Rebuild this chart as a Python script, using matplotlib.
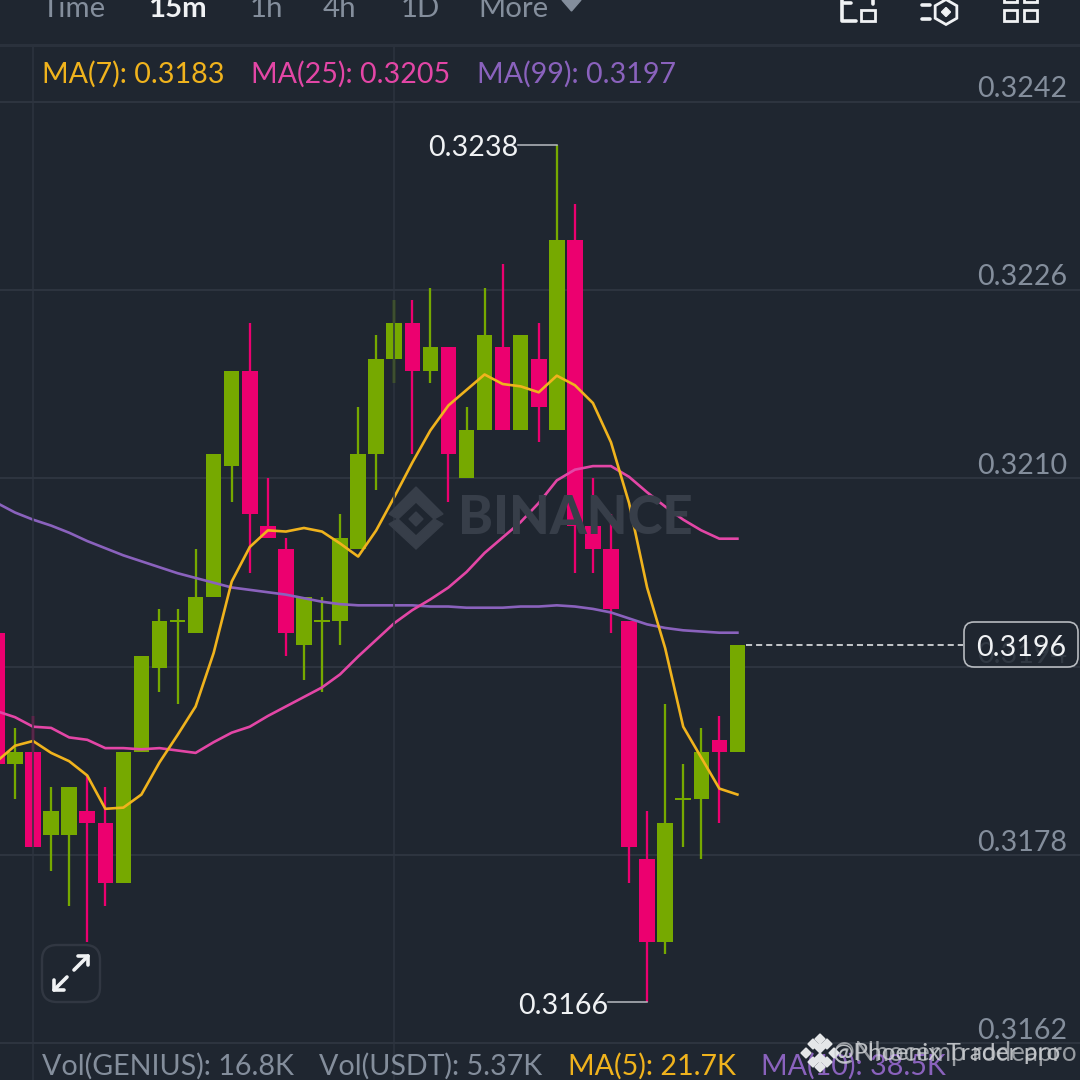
import matplotlib
matplotlib.use("Agg")
import matplotlib.pyplot as plt
from matplotlib.patches import FancyBboxPatch, Rectangle, Polygon, RegularPolygon

plt.rcParams['font.family'] = ['Lato', 'DejaVu Sans']

# --- data -----------------------------------------------------------------
opens = [.3197,.3186,.3187,.3180,.3180,.3182,.3181,.3176,.3187,.3194,.3198,.3197,.3200,.3211,.3219,.3206,
         .3204,.3196,.3198,.3198,.3204,.3212,.3220,.3223,.3219,.3221,.3210,.3214,.3221,.3214,.3220,.3214,
         .3230,.3206,.3204,.3198,.3178,.3171,.3183,.3183,.3188,.3187]
closes = [.3186,.3187,.3179,.3182,.3184,.3181,.3176,.3187,.3195,.3198,.3198,.3200,.3212,.3219,.3207,.3205,
          .3197,.3200,.3198,.3205,.3212,.3220,.3223,.3219,.3221,.3212,.3214,.3222,.3214,.3222,.3216,.3230,
          .3206,.3204,.3199,.3179,.3171,.3181,.3183,.3187,.3187,.3196]
highs = [.3197,.3189,.3190,.3184,.3184,.3185,.3184,.3187,.3195,.3199,.3199,.3204,.3212,.3219,.3223,.3210,
         .3205,.3200,.3200,.3207,.3216,.3222,.3225,.3225,.3226,.3221,.3216,.3226,.3228,.3222,.3223,.3238,
         .3233,.3210,.3207,.3198,.3182,.3191,.3186,.3189,.3190,.3196]
lows = [.3186,.3183,.3179,.3177,.3174,.3171,.3174,.3176,.3187,.3192,.3191,.3197,.3200,.3208,.3202,.3205,
        .3195,.3193,.3192,.3196,.3204,.3209,.3218,.3212,.3218,.3208,.3210,.3214,.3214,.3214,.3213,.3214,
        .3202,.3202,.3197,.3176,.3166,.3170,.3179,.3178,.3181,.3187]
ma7 = [.31862,.31875,.31879,.31869,.31862,.31850,.31822,.31823,.31834,.31861,.31884,.31908,.31953,.32013,
       .32042,.32056,.32055,.32058,.32055,.32045,.32034,.32056,.32084,.32113,.32140,.32161,.32174,.32187,
       .32179,.32177,.32172,.32186,.32178,.32163,.32130,.32079,.32008,.31957,.31891,.31865,.31839,.31834]
ma25 = [.31904,.31899,.31891,.31890,.31882,.31880,.31873,.31873,.31872,.31873,.31871,.31869,.31878,.31886,
        .31891,.31900,.31908,.31916,.31924,.31935,.31950,.31964,.31978,.31989,.31998,.32008,.32021,.32037,
        .32050,.32063,.32079,.32098,.32107,.32110,.32110,.32101,.32088,.32076,.32065,.32056,.32049,.32049]
ma99 = [.32079,.32071,.32065,.32060,.32054,.32047,.32041,.32035,.32030,.32025,.32020,.32016,.32012,.32008,
        .32006,.32004,.32002,.31999,.31996,.31994,.31993,.31993,.31993,.31993,.31992,.31992,.31991,.31991,
        .31991,.31992,.31992,.31993,.31992,.31990,.31987,.31982,.31977,.31974,.31972,.31971,.31970,.31970]
grid_prices = [.32416,.32258,.32100,.31941,.31783,.31625]
grid_labels = ['0.3242','0.3226','0.3210','0.3194','0.3178','0.3162']
vgrid_idx = [2, 22]
last_price = .3196

BG = '#1f2630'; GRID = '#2d343f'; GREEN = '#76a900'; RED = '#ec006f'
YEL = '#f0b31d'; PNK = '#e346a6'; PUR = '#8a62bd'; GREY = '#848e9c'; WHITE = '#f0f2f4'
FS = 20.6

fig = plt.figure(figsize=(10.8, 10.8), dpi=100, facecolor=BG)
ax = fig.add_axes([0, 0, 1, 1], facecolor=BG)
ax.set_xlim(0.1694, 59.97)
ax.set_ylim(.315941, .325017)
ax.axis('off')

# overlay in pixel space for the app chrome
ui = fig.add_axes([0, 0, 1, 1], facecolor='none')
ui.set_xlim(0, 1080); ui.set_ylim(1080, 0); ui.axis('off')

# grid
for p in grid_prices:
    ax.axhline(p, color=GRID, lw=1.5, zorder=1)
for i in vgrid_idx:
    ui.plot([i * 18.06 - 3.06] * 2, [46, 1080], color=GRID, lw=1.1, zorder=1)
ui.plot([0, 1080], [45, 45], color='#2a313c', lw=2.2, zorder=1)

# watermark
ui.text(458, 518, 'BINANCE', color='#373e49', fontsize=38, fontweight='black', va='center', ha='left', zorder=2)
ui.add_patch(Polygon([(416, 487), (443, 514), (434, 519), (416, 502), (398, 519), (389, 514)], closed=True, color='#373e49', zorder=2))
ui.add_patch(Polygon([(416, 549), (443, 524), (434, 519), (416, 536), (398, 519), (389, 524)], closed=True, color='#373e49', zorder=2))
ui.add_patch(RegularPolygon((416, 519), 4, radius=7, color='#373e49', zorder=2))

# candles
for i, (o, c, h, l) in enumerate(zip(opens, closes, highs, lows)):
    col = GREEN if c >= o else RED
    ax.vlines(i, l, h, color=col, lw=1.65, zorder=3)
    bot, ht = min(o, c), abs(c - o)
    if ht == 0:
        bot, ht = o - 0.00001, 0.00002
    ax.bar(i, ht, bottom=bot, width=0.86, color=col, zorder=3, linewidth=0)

# moving averages
xs = list(range(len(ma7)))
ax.plot(xs, ma99, color=PUR, lw=1.9, zorder=4, solid_joinstyle='round')
ax.plot(xs, ma25, color=PNK, lw=1.9, zorder=4, solid_joinstyle='round')
ax.plot(xs, ma7, color=YEL, lw=1.9, zorder=5, solid_joinstyle='round')

# price axis labels
for p, t in zip(grid_prices, grid_labels):
    ui.text(1067, 1080 - ax.transData.transform((0, p))[1] - 15, t, color=GREY, fontsize=FS, ha='right', va='center_baseline', zorder=6)

# last price line + tag
ax.plot([41.45, 53.5], [last_price, last_price], color=WHITE, lw=1.1, dashes=(4, 2.6), zorder=6)
ui.add_patch(FancyBboxPatch((964, 622), 114, 45, boxstyle='round,pad=0,rounding_size=10',
                            fc=BG, ec='#d8dbdf', lw=1.2, alpha=0.82, zorder=7))
ui.text(1021, 646, '0.3196', color=WHITE, fontsize=FS, ha='center', va='center_baseline', zorder=8)

# high / low annotations
hi_i = highs.index(max(highs)); lo_i = lows.index(min(lows))
ax.plot([hi_i - 2.15, hi_i], [max(highs)] * 2, color='#b8bcc2', lw=1.1, zorder=6)
ax.plot([lo_i - 2.15, lo_i], [min(lows)] * 2, color='#b8bcc2', lw=1.1, zorder=6)
ui.text(518, 146, f'{max(highs):.4f}', color=WHITE, fontsize=FS, ha='right', va='center_baseline', zorder=6)
ui.text(608, 1003, f'{min(lows):.4f}', color=WHITE, fontsize=FS, ha='right', va='center_baseline', zorder=6)

# MA legend
for x, t, c in [(42, 'MA(7): 0.3183', YEL), (251, 'MA(25): 0.3205', PNK), (477, 'MA(99): 0.3197', PUR)]:
    ui.text(x, 72, t, color=c, fontsize=FS, ha='left', va='center_baseline', zorder=6)

# top tabs
for x, t, c, w in [(42, 'Time', GREY, 'normal'), (148, '15m', WHITE, 'bold'), (250, '1h', GREY, 'normal'),
                   (323, '4h', GREY, 'normal'), (401, '1D', GREY, 'normal'), (478, 'More', GREY, 'normal')]:
    ui.text(x, 17, t, color=c, fontsize=FS + 0.6, fontweight=w, ha='left', va='baseline', zorder=6)
ui.add_patch(Polygon([(562, 0), (581, 0), (571.5, 11)], closed=True, color=GREY, zorder=6))

# top icons
def seg(xs_, ys_, lw=2.6):
    ui.plot(xs_, ys_, color=WHITE, lw=lw, solid_capstyle='round', zorder=10)
seg([842, 842, 856], [0, 21, 21])
seg([851, 844], [3, 3])
seg([873, 873], [0, 4])
ui.add_patch(Rectangle((861, 10), 14, 11, fc='none', ec=WHITE, lw=2, zorder=6))
seg([922, 930], [5, 5]); seg([922, 930], [19, 19])
ui.add_patch(RegularPolygon((946, 12), 6, radius=12.5, fc='none', ec=WHITE, lw=2, zorder=6))
ui.add_patch(RegularPolygon((946, 12), 4, radius=4.5, color=WHITE, zorder=6))
for x, y, h in [(1004, -8, 10), (1024, -8, 10), (1004, 10, 11), (1024, 10, 11)]:
    ui.add_patch(Rectangle((x, y), 13, h, fc='none', ec=WHITE, lw=2, zorder=6))

# expand button
ui.add_patch(FancyBboxPatch((42, 945), 58, 57, boxstyle='round,pad=0,rounding_size=15',
                            fc=BG, ec='#363c47', lw=1.7, alpha=0.8, zorder=9))
seg([74, 88], [970, 956]); seg([78, 88, 88], [956, 956, 965])
seg([67, 54], [977, 990]); seg([54, 54, 64], [980, 990, 990])

# volume legend
for x, t, c in [(42, 'Vol(GENIUS): 16.8K', GREY), (319, 'Vol(USDT): 5.37K', GREY),
                (568, 'MA(5): 21.7K', YEL), (761, 'MA(10): 38.5K', PUR)]:
    ui.text(x, 1064, t, color=c, fontsize=FS, ha='left', va='center_baseline', zorder=6)

# author watermark
for x, y in [(820, 1048), (806, 1053), (820, 1058), (834, 1053), (813, 1044), (827, 1044), (813, 1062), (827, 1062), (820, 1039), (820, 1067)]:
    ui.add_patch(RegularPolygon((x, y), 4, radius=5, color='#e4e6e8', zorder=11))
ui.text(833, 1054, '@Phoenix Trader pro', color='#dfe1e4', alpha=.8, fontsize=17.6, ha='left', va='center', zorder=11)
ui.text(833, 1054, '@Nhocemp rodeapro', color='#c9ccd0', alpha=.7, fontsize=18.6, ha='left', va='center', zorder=11)

fig.savefig('out.png', dpi=100, facecolor=BG)
